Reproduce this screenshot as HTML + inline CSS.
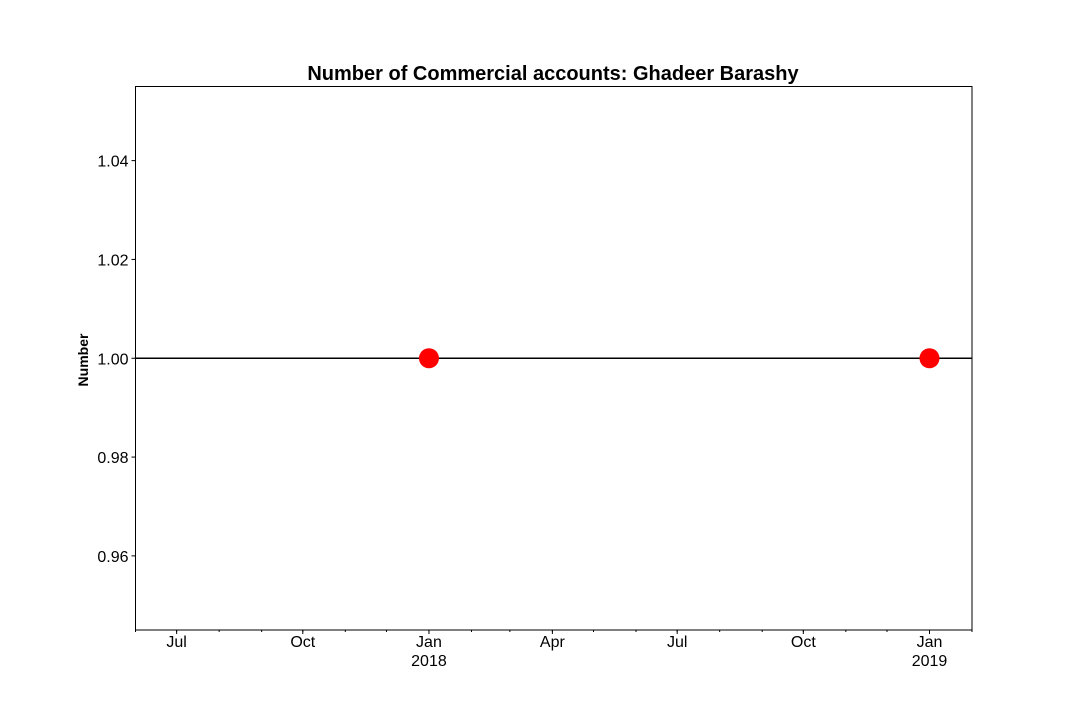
<!DOCTYPE html>
<html><head><meta charset="utf-8"><style>
body{margin:0;background:#fff;}
svg text{font-family:"Liberation Sans","DejaVu Sans",sans-serif;}
</style></head><body>
<svg id="chart" width="1080" height="720" xmlns="http://www.w3.org/2000/svg">
<rect width="1080" height="720" fill="#fff"/>
<text x="553" y="80" text-anchor="middle" font-size="20" font-weight="bold">Number of Commercial accounts: Ghadeer Barashy</text>
<text transform="translate(88,360) rotate(-90)" text-anchor="middle" font-size="14" font-weight="bold">Number</text>
<g id="marks"></g>
<rect x="135.5" y="86.5" width="836.5" height="543.5" fill="none" stroke="#000" stroke-width="1"/>
</svg>
<script>
const dates = ["2018-01-01","2019-01-01"];
const values = [1,1];
const refLine = 1;
const yTicks = [0.96,0.98,1.00,1.02,1.04];
const xMajor = [["2017-07-01","Jul",""],["2017-10-01","Oct",""],["2018-01-01","Jan","2018"],["2018-04-01","Apr",""],["2018-07-01","Jul",""],["2018-10-01","Oct",""],["2019-01-01","Jan","2019"]];

const NS="http://www.w3.org/2000/svg";
const g=document.getElementById('marks');
const L=135.5,R=972,T=86.5,B=630;
const t0=Date.UTC(2017,5,1), t1=Date.UTC(2019,1,1);
const yMin=0.945,yMax=1.055;
function xs(d){const t=typeof d==='number'?d:Date.parse(d+"T00:00:00Z");return L+(t-t0)/(t1-t0)*(R-L);}
function ys(v){return B-(v-yMin)/(yMax-yMin)*(B-T);}
function mk(tag,attrs){const e=document.createElementNS(NS,tag);for(const k in attrs)e.setAttribute(k,attrs[k]);g.appendChild(e);return e;}

yTicks.forEach(v=>{
  const y=ys(v);
  const tk=mk('line',{x1:L-4,x2:L,y1:y,y2:y,stroke:'#000'});
  
  
  const tx=mk('text',{x:L-7,y:y+6,'text-anchor':'end','font-size':'16'});
  tx.textContent=v.toFixed(2);
  
  
});
for(let m=5;m<=25;m++){
  const t=Date.UTC(2017,m,1);const x=xs(t);
  const tk=mk('line',{x1:x,x2:x,y1:B,y2:B+2,stroke:'#000'});
  
  
}
xMajor.forEach(([d,lab,yr])=>{
  const x=xs(d);
  const tk=mk('line',{x1:x,x2:x,y1:B,y2:B+4,stroke:'#000'});
  
  
  const tx=mk('text',{x:x,y:B+17,'text-anchor':'middle','font-size':'16'});
  tx.textContent=lab;
  
  
  if(yr){const t2=mk('text',{x:x,y:B+36,'text-anchor':'middle','font-size':'16'});t2.textContent=yr;
  
  }
});
const hl=mk('line',{x1:L,x2:R,y1:ys(refLine),y2:ys(refLine),stroke:'#000','stroke-width':1.5});


dates.forEach((d,i)=>{
  const c=mk('circle',{cx:xs(d),cy:ys(values[i]),r:10,fill:'#ff0000'});
  
  
});
</script>
</body></html>
